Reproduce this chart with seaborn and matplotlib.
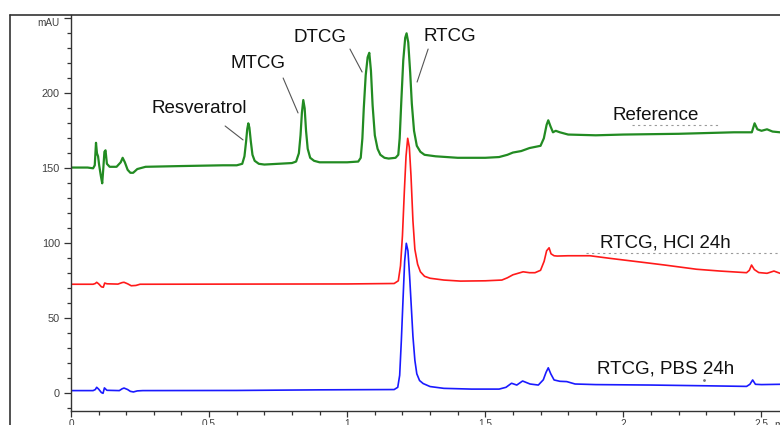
import numpy as np
import pandas as pd
import matplotlib
matplotlib.use("Agg")
import matplotlib.pyplot as plt
import seaborn as sns
from matplotlib.lines import Line2D
from matplotlib.ticker import MultipleLocator, FixedLocator

# ---------------- data ----------------
t_ref = [0.00, 0.06, 0.080, 0.086, 0.0905, 0.094, 0.098, 0.102, 0.108, 0.113, 0.117, 0.121, 0.125,
         0.130, 0.140, 0.165, 0.180, 0.187, 0.195, 0.205, 0.215, 0.225, 0.240, 0.27, 0.40, 0.55,
         0.60, 0.62, 0.628, 0.634, 0.638, 0.642, 0.646, 0.651, 0.657, 0.665, 0.68, 0.70,
         0.80, 0.815, 0.825, 0.831, 0.836, 0.841, 0.846, 0.851, 0.857, 0.866, 0.880, 0.90,
         1.00, 1.040, 1.049, 1.055, 1.060, 1.067, 1.074, 1.080, 1.086, 1.092, 1.100, 1.110, 1.120,
         1.135, 1.150, 1.175, 1.185, 1.190, 1.196, 1.203, 1.210, 1.215, 1.221, 1.228, 1.234, 1.242,
         1.252, 1.265, 1.280, 1.32, 1.40, 1.50, 1.55, 1.58, 1.60, 1.63, 1.66, 1.70, 1.712, 1.722,
         1.728, 1.736, 1.745, 1.755, 1.770, 1.80, 1.90, 2.00, 2.20, 2.40, 2.465, 2.475, 2.485,
         2.50, 2.52, 2.54, 2.567]
v_ref = [150.5, 150.5, 150, 152, 167, 160, 158, 152, 145, 140, 150, 161, 162,
         153, 151, 151, 154, 157, 154, 149, 147, 147, 149.5, 151, 151.5, 152,
         152, 153, 158, 168, 176, 180, 177, 168, 159, 155, 153, 152.5,
         153.5, 154.5, 160, 172, 187, 195.5, 190, 175, 163, 157, 155, 154,
         154, 154.5, 157, 170, 190, 212, 224, 227, 215, 192, 172, 163, 159,
         157, 156.5, 157, 159, 170, 195, 222, 237, 240, 234, 214, 193, 175,
         165, 161, 159, 158, 157, 157, 157.5, 159, 160.5, 161.5, 163.5, 165, 170, 179,
         182, 178, 174, 175, 174, 172.5, 172, 172.5, 173, 174, 174, 180, 176,
         175, 176, 174.5, 174]

t_hcl = [0.00, 0.08, 0.088, 0.093, 0.100, 0.110, 0.117, 0.122, 0.130, 0.170, 0.185, 0.192, 0.205,
         0.218, 0.235, 0.25, 0.60, 1.00, 1.17, 1.185, 1.193, 1.200, 1.207, 1.213, 1.219, 1.225,
         1.231, 1.238, 1.245, 1.255, 1.265, 1.28, 1.30, 1.35, 1.41, 1.50, 1.56, 1.58, 1.60, 1.637,
         1.66, 1.68, 1.70, 1.713, 1.722, 1.731, 1.738, 1.749, 1.76, 1.80, 1.879, 1.95, 2.084,
         2.15, 2.265, 2.35, 2.446, 2.456, 2.464, 2.474, 2.49, 2.52, 2.545, 2.567]
v_hcl = [72.7, 72.7, 73.2, 74, 73, 71, 70.7, 73.5, 73, 72.8, 73.8, 74, 73,
         71.7, 71.9, 72.7, 72.8, 72.9, 73.2, 75, 85, 105, 135, 158, 170, 164,
         145, 115, 96, 86, 81, 78, 76.7, 75.5, 74.8, 75, 75.5, 77, 79, 81,
         80.4, 80.4, 82, 88, 95, 97, 93, 91.7, 91.5, 91.7, 91.7, 90, 87,
         85.5, 82.7, 81.5, 80.4, 82, 85.5, 82.5, 80.5, 80, 81.5, 80]

t_pbs = [0.00, 0.08, 0.088, 0.093, 0.100, 0.110, 0.116, 0.121, 0.130, 0.175, 0.185, 0.192, 0.205,
         0.215, 0.226, 0.240, 0.26, 0.60, 0.90, 1.17, 1.183, 1.190, 1.196, 1.202, 1.208, 1.214,
         1.220, 1.226, 1.232, 1.238, 1.245, 1.252, 1.262, 1.275, 1.30, 1.35, 1.45, 1.55, 1.575,
         1.595, 1.614, 1.635, 1.662, 1.692, 1.710, 1.720, 1.728, 1.737, 1.749, 1.770, 1.795, 1.825,
         1.90, 2.10, 2.30, 2.446, 2.458, 2.468, 2.478, 2.50, 2.567]
v_pbs = [1.8, 1.8, 2.5, 4, 2.8, 0.5, 0, 3.6, 2, 1.8, 3, 3.5, 2.5,
         1.3, 0.9, 1.6, 1.8, 1.9, 2.3, 2.5, 4, 12, 35, 62, 88, 100,
         95, 78, 58, 38, 22, 13, 8.5, 6.5, 4.5, 3.3, 2.8, 2.8, 4,
         6.7, 5.5, 8.2, 6.2, 5.5, 9, 14, 17, 13, 8.9, 8, 7.8, 6.2,
         5.8, 5.5, 5, 4.6, 6, 8.9, 6, 5.8, 6]

y_ticks = [0, 50, 100, 150, 200, 250]
y_labels = ["0", "50", "100", "150", "200", "mAU"]
x_ticks = [0, 0.5, 1, 1.5, 2, 2.5]
x_labels = ["0", "0.5", "1", "1.5", "2", "2.5"]

peak_names = ["Resveratrol", "MTCG", "DTCG", "RTCG"]
peak_text_x = [0.463, 0.677, 0.901, 1.372]
peak_text_y = [190.2, 220.2, 236.9, 237.7]
lead_x0 = [0.558, 0.768, 1.010, 1.293]
lead_y0 = [178.2, 210.2, 229.5, 229.5]
lead_x1 = [0.623, 0.822, 1.054, 1.253]
lead_y1 = [168.9, 186.9, 214.2, 207.5]

trace_names = ["Reference", "RTCG, HCl 24h", "RTCG, PBS 24h"]
trace_text_x = [2.118, 2.152, 2.152]
trace_text_y = [185.5, 100.0, 16.0]

# ---------------- figure ----------------
sns.set_theme(style="ticks")
plt.rcParams["font.family"] = ["Liberation Sans", "DejaVu Sans"]

W, H = 780, 425
fig = plt.figure(figsize=(W / 100, H / 100), dpi=100)
fig.patch.set_facecolor("white")
ax = fig.add_axes([71 / W, (H - 411) / H, (W - 71) / W, (411 - 15) / H])
ax.set_facecolor("white")

df_ref = pd.DataFrame({"t": t_ref, "v": v_ref})
df_hcl = pd.DataFrame({"t": t_hcl, "v": v_hcl})
df_pbs = pd.DataFrame({"t": t_pbs, "v": v_pbs})

sns.lineplot(data=df_ref, x="t", y="v", ax=ax, color="#228b22", linewidth=1.6,
             estimator=None, legend=False)
sns.lineplot(data=df_hcl, x="t", y="v", ax=ax, color="#ff1a1a", linewidth=1.2,
             estimator=None, legend=False)
sns.lineplot(data=df_pbs, x="t", y="v", ax=ax, color="#1a1aff", linewidth=1.2,
             estimator=None, legend=False)

ax.set_xlim(0, 2.567)
ax.set_ylim(-11.8, 252.2)
ax.set_xlabel("")
ax.set_ylabel("")

for s in ["top", "right"]:
    ax.spines[s].set_visible(False)
for s in ["left", "bottom"]:
    ax.spines[s].set_color("#333333")
    ax.spines[s].set_linewidth(1.0)

ax.yaxis.set_major_locator(FixedLocator(y_ticks))
ax.set_yticklabels(y_labels)
ax.yaxis.set_minor_locator(MultipleLocator(10))
ax.xaxis.set_major_locator(FixedLocator(x_ticks))
ax.set_xticklabels(x_labels)
ax.xaxis.set_minor_locator(MultipleLocator(0.1))
ax.tick_params(axis="y", which="major", length=5, width=0.9, color="#333333",
               labelsize=7.8, labelcolor="#404040", pad=3, direction="out")
ax.tick_params(axis="x", which="major", length=4, width=0.9, color="#333333",
               labelsize=7.2, labelcolor="#404040", pad=1.5, direction="out")
ax.tick_params(axis="both", which="minor", length=2.8, width=0.9, color="#333333",
               direction="out")
for lab in ax.get_yticklabels():
    if lab.get_text() == "mAU":
        lab.set_fontsize(7.2)
        lab.set_verticalalignment("top")

ax.text(2.545, -0.0225, "min", transform=ax.get_xaxis_transform(), ha="left", va="top",
        fontsize=7.2, color="#404040", clip_on=False)

# peak labels with leader lines
for name, tx, ty, x0, y0, x1, y1 in zip(peak_names, peak_text_x, peak_text_y,
                                        lead_x0, lead_y0, lead_x1, lead_y1):
    ax.text(tx, ty, name, ha="center", va="center", fontsize=13.5, color="#111111")
    ax.plot([x0, x1], [y0, y1], color="#555555", linewidth=0.8)

# trace labels
for name, tx, ty in zip(trace_names, trace_text_x, trace_text_y):
    ax.text(tx, ty, name, ha="center", va="center", fontsize=13.5, color="#111111")
ax.plot([2.031, 2.342], [178.9, 178.9], color="#9a9a9a", linewidth=0.8, linestyle=(0, (2, 3)))
ax.plot([1.865, 2.567], [93.7, 93.7], color="#9a9a9a", linewidth=0.8, linestyle=(0, (2, 3)))
ax.plot([2.292], [8.9], marker=".", markersize=2, color="#777777")

# outer frame (left and top edges)
fig.add_artist(Line2D([10 / W, 10 / W], [0, (H - 15) / H], transform=fig.transFigure,
                      color="#333333", linewidth=1.2))
fig.add_artist(Line2D([10 / W, 1.0], [(H - 15) / H, (H - 15) / H], transform=fig.transFigure,
                      color="#333333", linewidth=1.2))

fig.savefig("out.png", dpi=100, facecolor="white")
